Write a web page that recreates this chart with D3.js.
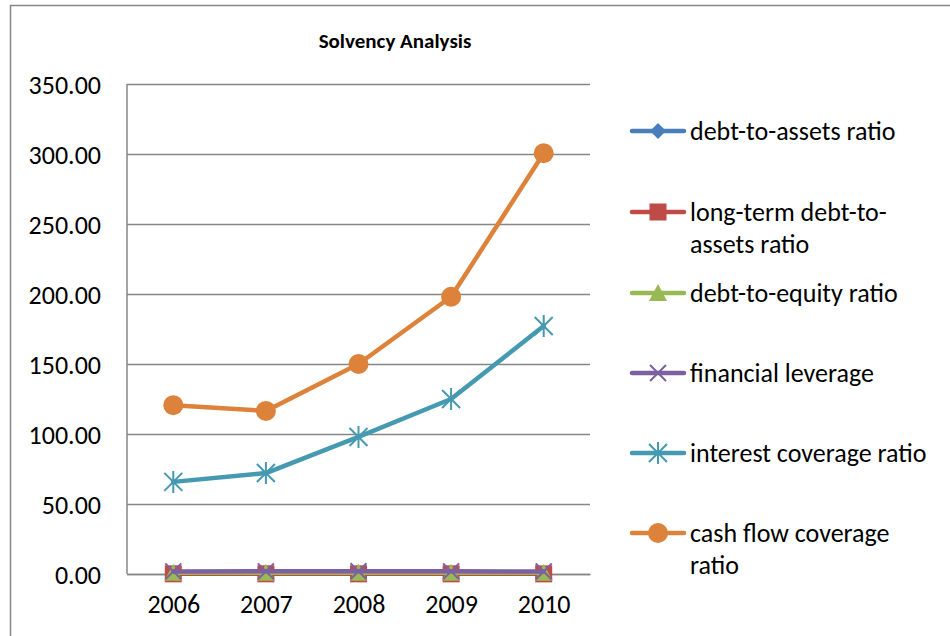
<!DOCTYPE html>
<html><head><meta charset="utf-8">
<script src="https://cdn.jsdelivr.net/npm/d3@7"></script>
<style>
html,body{margin:0;padding:0;background:#fff;}
svg{display:block;}
text{font-family:Carlito,Lato,"Open Sans",sans-serif;fill:#000;}
</style></head>
<body><svg id="c" width="950" height="636"></svg>
<script>
const years = ["2006","2007","2008","2009","2010"];
const seriesNames = ["debt-to-assets ratio","long-term debt-to-assets ratio","debt-to-equity ratio","financial leverage","interest coverage ratio","cash flow coverage ratio"];
const debtToAssets = [0.46,0.47,0.48,0.47,0.45];
const longTermDebtToAssets = [0.12,0.13,0.12,0.11,0.10];
const debtToEquity = [0.85,0.89,0.92,0.89,0.82];
const financialLeverage = [1.85,1.89,1.92,1.89,1.82];
const interestCoverage = [65.8,72.1,97.9,125.0,177.1];
const cashFlowCoverage = [120.6,116.5,150.0,198.0,300.5];
const yTicks = [0,50,100,150,200,250,300,350];
const chartTitle = "Solvency Analysis";

const colors = ["#4A7EBB","#BE4B48","#98B954","#7D60A0","#4599B1","#DD823B"];
const symbols = ["diamond","square","triangle","x","asterisk","circle"];
const allValues = [debtToAssets,longTermDebtToAssets,debtToEquity,financialLeverage,interestCoverage,cashFlowCoverage];
const legendLines = [["debt-to-assets ratio"],["long-term debt-to-","assets ratio"],["debt-to-equity ratio"],["financial leverage"],["interest coverage ratio"],["cash flow coverage","ratio"]];

const svg = d3.select("#c");
svg.append("rect").attr("x",10.5).attr("y",5.5).attr("width",960).attr("height",660)
  .attr("fill","#fff").attr("stroke","#878787").attr("stroke-width",1.5);

const pLeft=127, pRight=590, pTop=84, pBottom=574;
const x = d3.scalePoint().domain(years).range([pLeft,pRight]).padding(0.5);
const y = d3.scaleLinear().domain([0,350]).range([pBottom,pTop]);

svg.append("text").attr("x",395).attr("y",48).attr("text-anchor","middle")
  .style("font-size","21px").style("font-weight","bold").text(chartTitle);

const yAxis = svg.append("g").attr("transform",`translate(${pLeft},0)`)
  .call(d3.axisLeft(y).tickValues(yTicks).tickFormat(d3.format(".2f")).tickSize(-(pRight-pLeft)).tickPadding(26));
yAxis.select(".domain").remove();
yAxis.selectAll(".tick line").attr("stroke","#868686").attr("stroke-width",1.5);
yAxis.selectAll(".tick text").style("font-size","26px").attr("dy","0.36em");
svg.append("line").attr("x1",pLeft).attr("x2",pLeft).attr("y1",pTop).attr("y2",pBottom)
  .attr("stroke","#868686").attr("stroke-width",1.5);

const xAxis = svg.append("g").attr("transform",`translate(0,${pBottom})`)
  .call(d3.axisBottom(x).tickSize(0).tickPadding(21));
xAxis.select(".domain").attr("stroke","#868686").attr("stroke-width",1.5);
xAxis.selectAll(".tick text").style("font-size","26px");

function drawMarker(g, type, color, cx, cy, scale){
  const s = scale||1;
  if(type==="diamond"){
    g.append("path").attr("d",`M${cx},${cy-8*s}L${cx+8*s},${cy}L${cx},${cy+8*s}L${cx-8*s},${cy}Z`).attr("fill",color);
  } else if(type==="square"){
    g.append("rect").attr("x",cx-8.5*s).attr("y",cy-8.5*s).attr("width",17*s).attr("height",17*s).attr("fill",color);
  } else if(type==="triangle"){
    g.append("path").attr("d",`M${cx},${cy-9*s}L${cx+9*s},${cy+8*s}L${cx-9*s},${cy+8*s}Z`).attr("fill",color);
  } else if(type==="x"){
    g.append("path").attr("d",`M${cx-8*s},${cy-8*s}L${cx+8*s},${cy+8*s}M${cx+8*s},${cy-8*s}L${cx-8*s},${cy+8*s}`)
      .attr("stroke",color).attr("stroke-width",2);
  } else if(type==="asterisk"){
    g.append("path").attr("d",`M${cx-9*s},${cy-9*s}L${cx+9*s},${cy+9*s}M${cx+9*s},${cy-9*s}L${cx-9*s},${cy+9*s}M${cx},${cy-11*s}L${cx},${cy+11*s}`)
      .attr("stroke",color).attr("stroke-width",2);
  } else if(type==="circle"){
    g.append("circle").attr("cx",cx).attr("cy",cy).attr("r",10*s).attr("fill",color);
  }
}

const line = d3.line().x((d,i)=>x(years[i])).y(d=>y(d));
allValues.forEach((vals,k)=>{
  const g = svg.append("g");
  g.append("path").datum(vals).attr("d",line).attr("fill","none")
    .attr("stroke",colors[k]).attr("stroke-width",4.5).attr("stroke-linejoin","round").attr("stroke-linecap","round");
  vals.forEach((v,i)=>drawMarker(g,symbols[k],colors[k],x(years[i]),y(v),1));
});

const legendY = [131,212,293,373,453,533];
const lg = svg.append("g");
seriesNames.forEach((n,k)=>{
  const yy = legendY[k];
  lg.append("line").attr("x1",632).attr("x2",684).attr("y1",yy).attr("y2",yy)
    .attr("stroke",colors[k]).attr("stroke-width",4.5).attr("stroke-linecap","round");
  drawMarker(lg,symbols[k],colors[k],658,yy,1);
  legendLines[k].forEach((t,j)=>{
    lg.append("text").attr("x",690).attr("y",yy+j*32).attr("dy","0.35em")
      .style("font-size","26px").text(t);
  });
});
</script></body></html>
